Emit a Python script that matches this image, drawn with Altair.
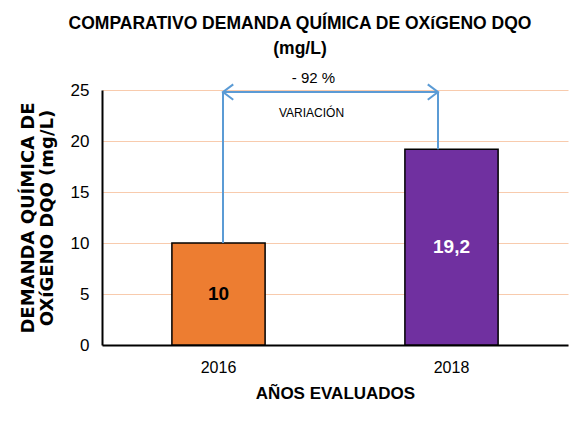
import altair as alt
import pandas as pd

years = ["2016", "2018"]
values = [10, 19.2]
value_labels = ["10", "19,2"]
bar_colors = ["#ED7D31", "#7030A0"]
label_colors = ["#000000", "#FFFFFF"]

arrow_level = 24.8
variation_text = "- 92 %"
variation_label = "VARIACIÓN"

NARROW = "Liberation Sans Narrow, Arial Narrow, Liberation Sans, Arial, sans-serif"
WIDE = "DejaVu Sans, Liberation Sans, Arial, sans-serif"
BLUE = "#5B9BD5"

bars_df = pd.DataFrame({"year": years, "value": values, "label": value_labels,
                        "color": bar_colors, "lcolor": label_colors})
bars_df["mid"] = bars_df["value"] / 2

xscale = alt.Scale(domain=years, paddingInner=0.6, paddingOuter=0.3)
yscale = alt.Scale(domain=[0, 25])

x_enc = alt.X("year:N", scale=xscale, axis=alt.Axis(
    title="AÑOS EVALUADOS", labelAngle=0, labelFont=NARROW, labelFontSize=16,
    labelColor="#000", ticks=False, labelPadding=14, domainColor="#000", domainWidth=2,
    titleFont=NARROW, titleFontSize=17, titleFontWeight="bold", titleColor="#000",
    titlePadding=10))
y_enc = alt.Y("value:Q", scale=yscale, axis=alt.Axis(
    title=["DEMANDA QUÍMICA DE", "OXíGENO DQO (mg/L)"], values=[0, 5, 10, 15, 20, 25],
    labelFont=NARROW, labelFontSize=17, labelColor="#000", ticks=False, labelPadding=13,
    domainColor="#000", domainWidth=2, gridColor="#F8CBAD", gridWidth=1,
    titleFont=WIDE, titleFontSize=18, titleFontWeight="bold", titleColor="#000",
    titleLineHeight=19, titlePadding=14))

base = alt.Chart(bars_df)
bars = base.mark_bar(stroke="#000", strokeWidth=1.5).encode(
    x=x_enc, y=y_enc, color=alt.Color("color:N", scale=None))
labels = base.mark_text(font=NARROW, fontSize=19, fontWeight="bold").encode(
    x=alt.X("year:N", scale=xscale), y=alt.Y("mid:Q", scale=yscale),
    text="label:N", color=alt.Color("lcolor:N", scale=None))

left_df = pd.DataFrame({"year": [years[0]], "y": [values[0]], "y2": [arrow_level]})
right_df = pd.DataFrame({"year": [years[1]], "y": [values[1]], "y2": [arrow_level]})
horiz_df = pd.DataFrame({"x": [years[0]], "x2": [years[1]], "y": [arrow_level]})

L_OFF = 4.5
R_OFF = -13.5

vleft = alt.Chart(left_df).mark_rule(color=BLUE, strokeWidth=2, xOffset=L_OFF).encode(
    x=alt.X("year:N", scale=xscale), y=alt.Y("y:Q", scale=yscale), y2="y2:Q")
vright = alt.Chart(right_df).mark_rule(color=BLUE, strokeWidth=2, xOffset=R_OFF).encode(
    x=alt.X("year:N", scale=xscale), y=alt.Y("y:Q", scale=yscale), y2="y2:Q")
horiz = alt.Chart(horiz_df).mark_rule(color=BLUE, strokeWidth=2, xOffset=L_OFF,
                                      x2Offset=R_OFF).encode(
    x=alt.X("x:N", scale=xscale), x2="x2:N", y=alt.Y("y:Q", scale=yscale))

head_left = alt.Chart(left_df).mark_point(
    shape="M 1 -0.75 L 0 0 L 1 0.75", size=420, filled=False, color=BLUE,
    strokeWidth=2, opacity=1, xOffset=L_OFF).encode(
    x=alt.X("year:N", scale=xscale), y=alt.Y("y2:Q", scale=yscale))
head_right = alt.Chart(right_df).mark_point(
    shape="M -1 -0.75 L 0 0 L -1 0.75", size=420, filled=False, color=BLUE,
    strokeWidth=2, opacity=1, xOffset=R_OFF).encode(
    x=alt.X("year:N", scale=xscale), y=alt.Y("y2:Q", scale=yscale))

ann_df = pd.DataFrame({"year": [years[0]], "y": [arrow_level],
                       "t1": [variation_text], "t2": [variation_label]})
ann1 = alt.Chart(ann_df).mark_text(font=NARROW, fontSize=15, color="#000",
                                   xOffset=95, dy=-14).encode(
    x=alt.X("year:N", scale=xscale), y=alt.Y("y:Q", scale=yscale), text="t1:N")
ann2 = alt.Chart(ann_df).mark_text(font=NARROW, fontSize=12, color="#000",
                                   xOffset=93, dy=21).encode(
    x=alt.X("year:N", scale=xscale), y=alt.Y("y:Q", scale=yscale), text="t2:N")

chart = alt.layer(bars, labels, vleft, vright, horiz, head_left, head_right, ann1, ann2).properties(
    width=466, height=255,
    autosize=alt.AutoSizeParams(type="none"),
    padding={"left": 94, "top": 82, "right": 3, "bottom": 80},
    background="white",
    title=alt.TitleParams(
        text=["COMPARATIVO DEMANDA QUÍMICA DE OXíGENO DQO", "(mg/L)"],
        font=NARROW, fontSize=17.5, fontWeight="bold", color="#000",
        anchor="middle", dx=-35, offset=14, lineHeight=25),
).configure_view(strokeWidth=0)

chart.save("out.html", embed_options={"renderer": "svg", "actions": False})
